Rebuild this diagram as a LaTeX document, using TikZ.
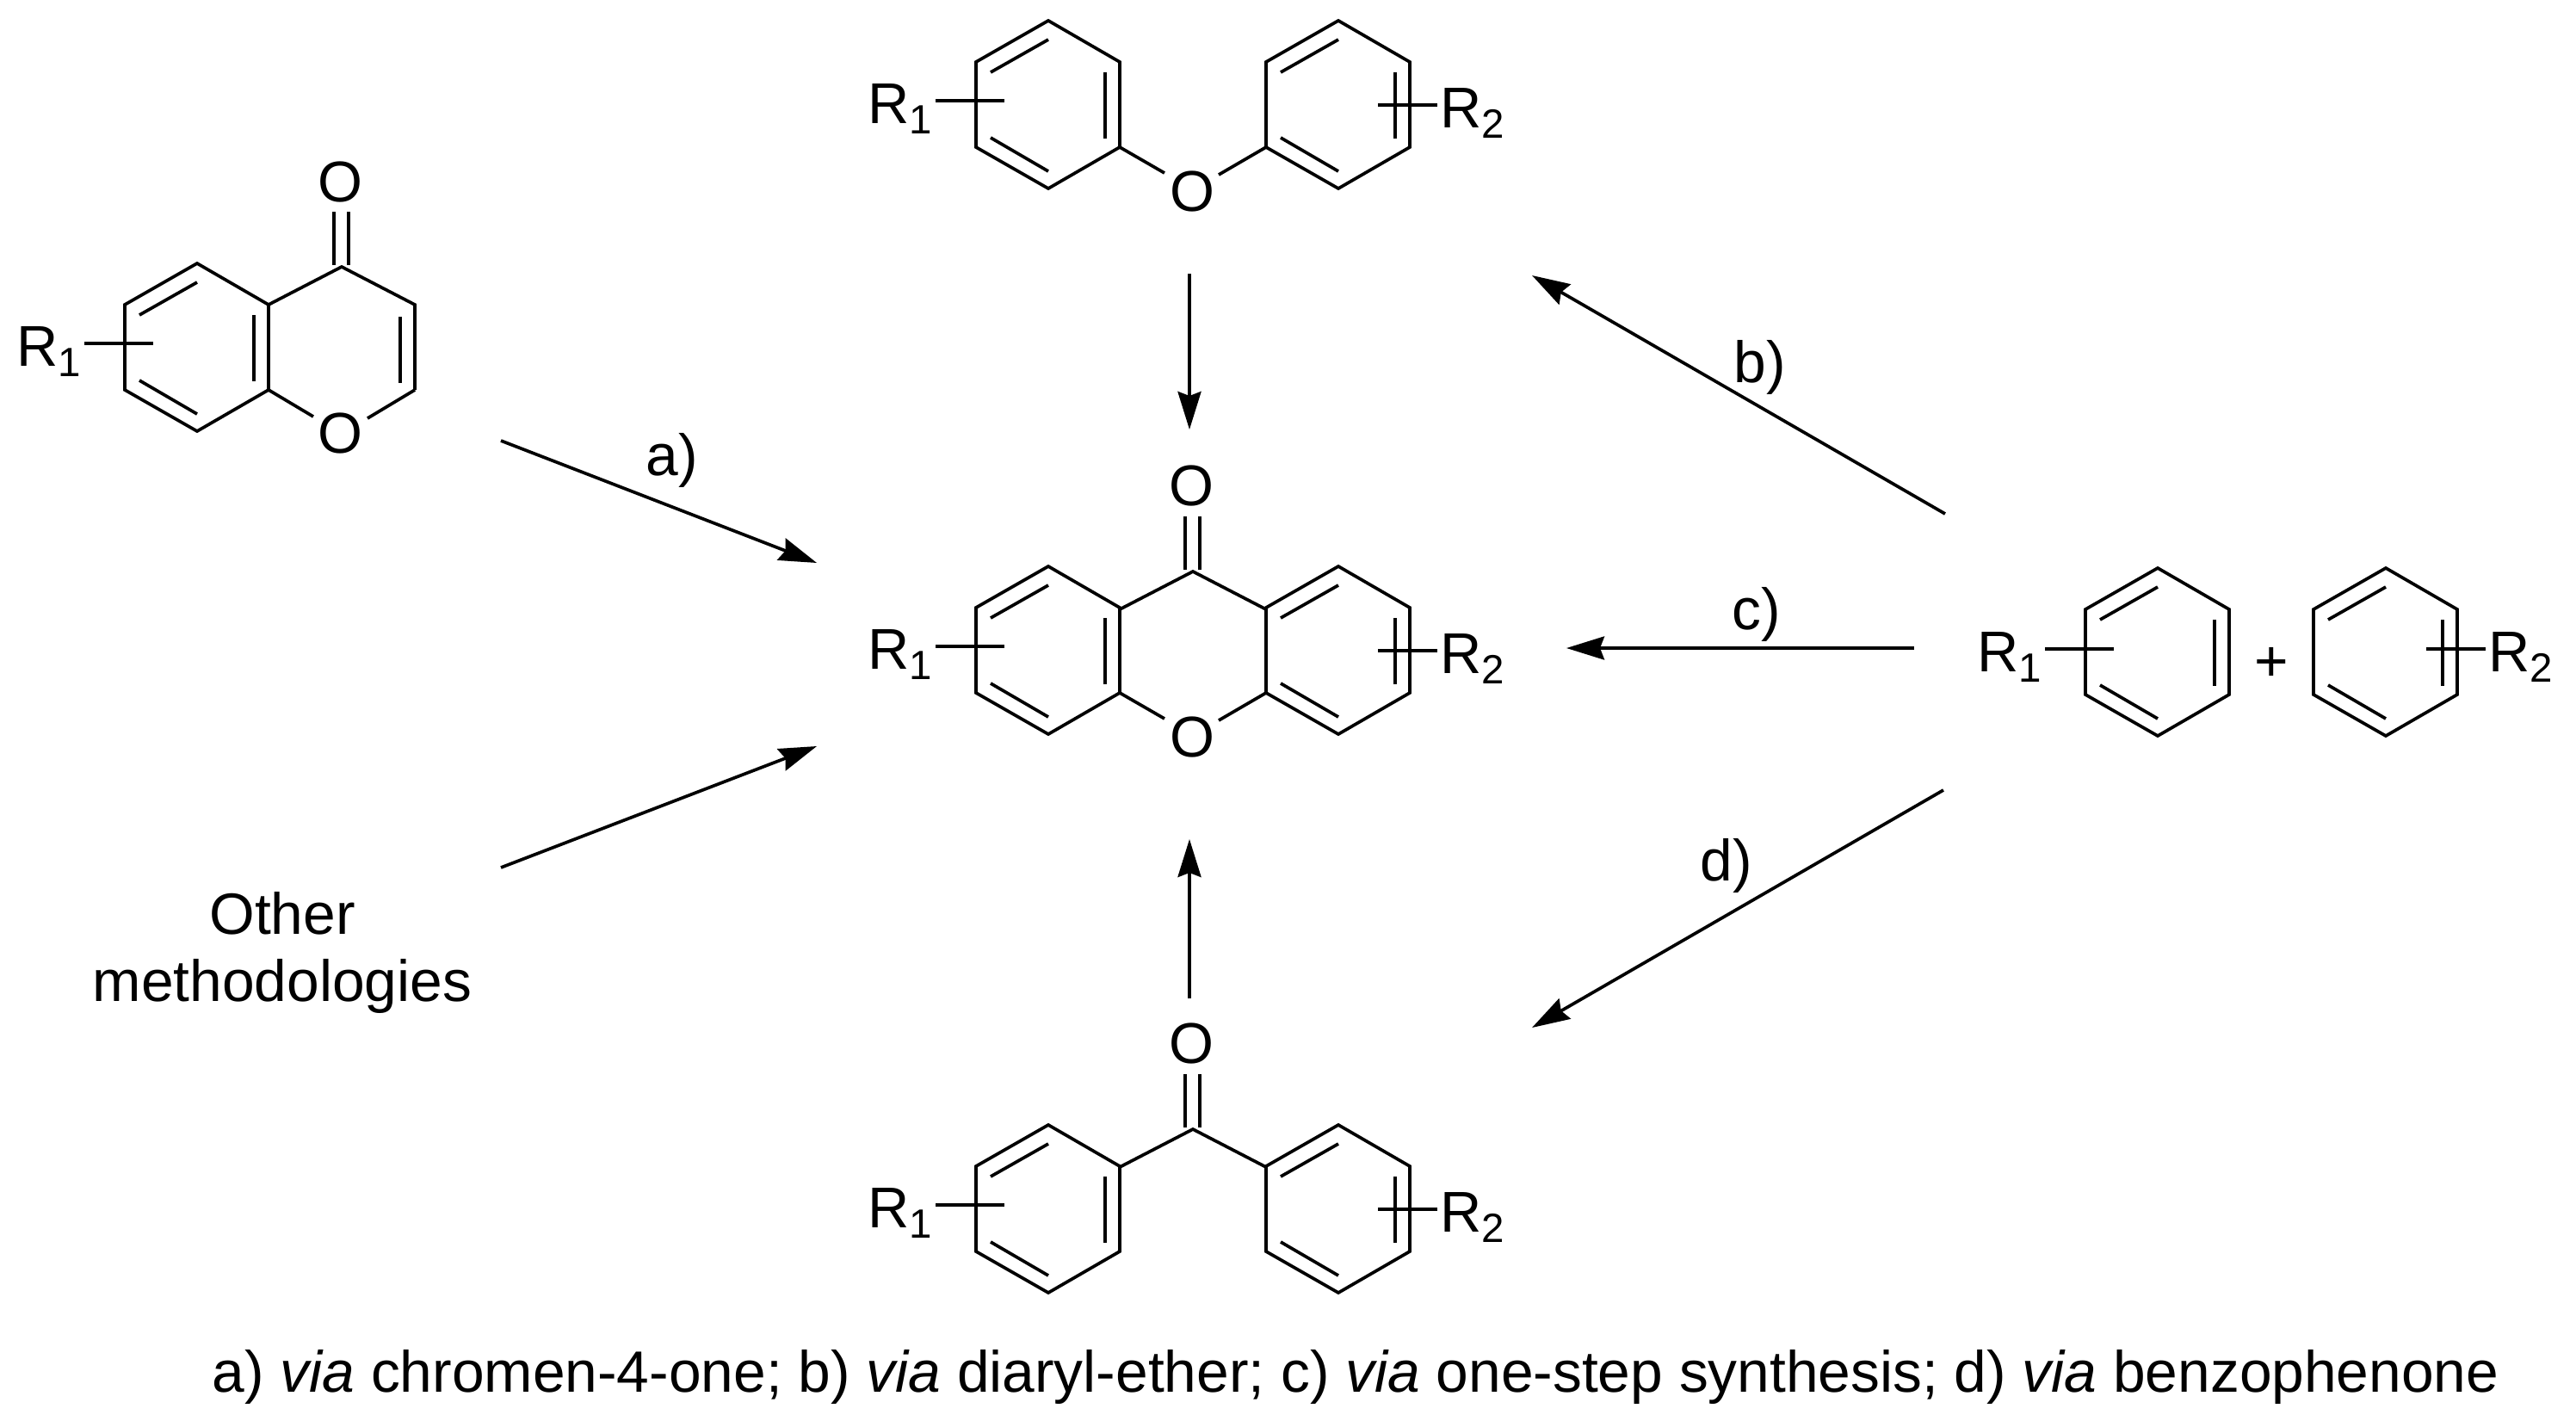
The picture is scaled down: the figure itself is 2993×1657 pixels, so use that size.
\documentclass[tikz,border=0pt]{standalone}
\usepackage{fontspec}
\setmainfont{Liberation Sans}
\usetikzlibrary{arrows.meta}
\def \Rone {R\raisebox{-3.6pt}{\fontsize{13.5}{13.5}\selectfont 1}}
\def \Rtwo {R\raisebox{-3.6pt}{\fontsize{13.5}{13.5}\selectfont 2}}
\def \ring #1#2{\begin{scope}[shift={(#1,#2)}]
\draw [bond] (84,0) -- (167,48) -- (167,147) -- (84,195) -- (0,147) -- (0,48) -- cycle;
\draw [bond] (84,22) -- (17,60);
\draw [bond] (17,136) -- (84,175);
\draw [bond] (150,60) -- (150,137);
\end{scope}}
\def \subleft #1#2#3{\node (#1) [label text] at (#2-4,#3) {\Rone};
\draw [bond] (#2+75,#3-26) -- (#2+155,#3-26);}
\def \subright #1#2#3{\node (#1) [label text] at (#2-4,#3) {\Rtwo};
\draw [bond] (#2-76,#3-26) -- (#2-7,#3-26);}
\def \carbonyl #1#2#3{\draw [bond] (#2-82,#3+144) -- (#2+3,#3+100) -- (#2+88,#3+144);
\draw [bond] (#2-6,#3+36) -- (#2-6,#3+98);
\draw [bond] (#2+11,#3+36) -- (#2+11,#3+98);
\node (#1) [atom] at (#2+1,#3) {O};}

\begin{document}
\begin{tikzpicture}[x=0.01cm,y=-0.01cm]
\tikzstyle{arrow}=[-{Stealth[length=0.44cm,width=0.27cm,inset=0.05cm]},line width=1.05pt];
\tikzstyle{bond}=[line width=1.05pt];
\tikzstyle{atom}=[inner sep=0pt,font=\fontsize{19}{22}\selectfont];
\tikzstyle{label text}=[inner sep=0pt,anchor=base west,font=\fontsize{19}{22}\selectfont];
\tikzstyle{plain text}=[inner sep=0pt,align=center,font=\fontsize{19.25}{22}\selectfont];
\useasboundingbox (0,0) rectangle (2993,1657);
% chromenone
\ring{145}{306}
\draw [bond] (312,354) -- (397,310) -- (482,354) -- (482,453);
\draw [bond] (388,246) -- (388,308);
\draw [bond] (405,246) -- (405,308);
\draw [bond] (465,368) -- (465,445);
\draw [bond] (312,453) -- (364,484);
\draw [bond] (482,453) -- (427,486);
\node (O1) [atom] at (395,211) {O};
\node (O2) [atom] at (395,503) {O};
\subleft{chromR}{23}{425}
% diaryl ether
\ring{1134}{24}
\ring{1471}{24}
\draw [bond] (1301,171) -- (1353,201);
\draw [bond] (1471,171) -- (1416,203);
\node (O3) [atom] at (1385,222) {O};
\subleft{etherRa}{1012}{143}
\subright{etherRb}{1677}{148}
% xanthone
\ring{1134}{658}
\ring{1471}{658}
\carbonyl{O4}{1383}{564}
\draw [bond] (1301,805) -- (1353,835);
\draw [bond] (1471,805) -- (1416,837);
\node (O5) [atom] at (1385,856) {O};
\subleft{xanRa}{1012}{777}
\subright{xanRb}{1677}{782}
% benzophenone
\ring{1134}{1307}
\ring{1471}{1307}
\carbonyl{O6}{1383}{1212}
\subleft{ketRa}{1012}{1426}
\subright{ketRb}{1677}{1431}
% benzenes
\ring{2423}{660}
\ring{2688}{660}
\subleft{benzRa}{2301}{780}
\subright{benzRb}{2895}{780}
\node (plus) [plain text] at (2639,772) {+};
% other route
\node (other) [plain text] at (328,1107) {Other\\methodologies};
% arrows
\coordinate (a1) at (582,512);
\coordinate (a2) at (949,654);
\coordinate (o1) at (582,1008);
\coordinate (o2) at (949,867);
\coordinate (e1) at (1382,318);
\coordinate (e2) at (1382,499);
\coordinate (k1) at (1382,1160);
\coordinate (k2) at (1382,975);
\coordinate (b1) at (2260,597);
\coordinate (b2) at (1780,320);
\coordinate (c1) at (2224,753);
\coordinate (c2) at (1820,753);
\coordinate (d1) at (2258,918);
\coordinate (d2) at (1780,1194);
\draw [arrow] (a1) -- (a2);
\draw [arrow] (o1) -- (o2);
\draw [arrow] (e1) -- (e2);
\draw [arrow] (k1) -- (k2);
\draw [arrow] (b1) -- (b2);
\draw [arrow] (c1) -- (c2);
\draw [arrow] (d1) -- (d2);
\node (la) [plain text] at (781,535) {a)};
\node (lb) [plain text] at (2045,427) {b)};
\node (lc) [plain text] at (2041,714) {c)};
\node (ld) [plain text] at (2006,1006) {d)};
\node (via) [plain text] at (1575,1600) {a) \textit{via} chromen-4-one; b) \textit{via} diaryl-ether; c) \textit{via} one-step synthesis; d) \textit{via} benzophenone};
\end{tikzpicture}
\end{document}
